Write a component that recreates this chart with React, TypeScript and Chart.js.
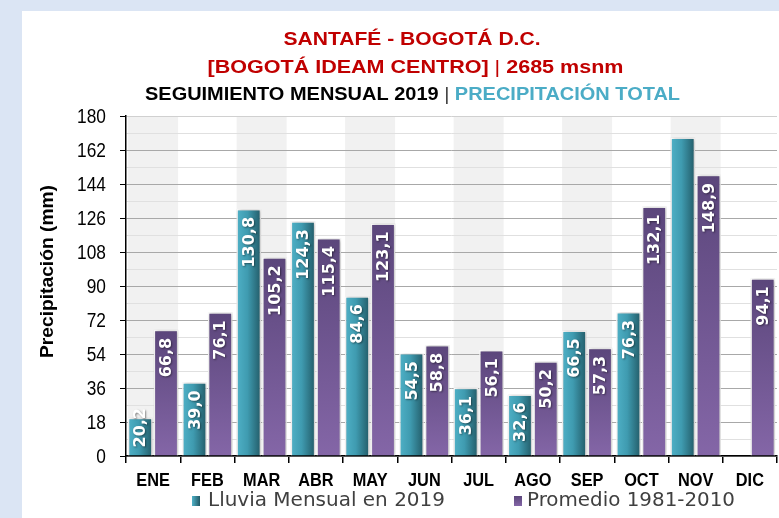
import React, { useEffect, useRef } from 'react';
import { Chart, registerables } from 'chart.js';

Chart.register(...registerables);

const months = ['ENE', 'FEB', 'MAR', 'ABR', 'MAY', 'JUN', 'JUL', 'AGO', 'SEP', 'OCT', 'NOV', 'DIC'];
const lluvia2019: (number | null)[] = [20.2, 39.0, 130.8, 124.3, 84.6, 54.5, 36.1, 32.6, 66.5, 76.3, 168.6, null];
const promedio: (number | null)[] = [66.8, 76.1, 105.2, 115.4, 123.1, 58.8, 56.1, 50.2, 57.3, 132.1, 148.9, 94.1];
const seriesNames = ['Lluvia Mensual en 2019', 'Promedio 1981-2010'];
const yMax = 180;
const yMajorStep = 18;
const yMinorStep = 9;
const titleLine1 = 'SANTAFÉ - BOGOTÁ D.C.';
const titleLine2a = '[BOGOTÁ IDEAM CENTRO]';
const titleLine2b = ' | ';
const titleLine2c = '2685 msnm';
const titleLine3a = 'SEGUIMIENTO MENSUAL 2019';
const titleLine3b = ' | ';
const titleLine3c = 'PRECIPITACIÓN TOTAL';
const yTitle = 'Precipitación (mm)';
// labels the reference does not show (series index, month index)
const hiddenLabels: [number, number][] = [[0, 10]];

const SANS = "'Liberation Sans', Arial, sans-serif";
const LEG = "'DejaVu Sans', sans-serif";
const CAP = 0.716;
const CAT_PCT = 0.95;
const BAR_PCT = 0.96;

type Piece = { text: string; weight: string; color: string };

function drawPieces(
  ctx: CanvasRenderingContext2D,
  pieces: Piece[],
  family: string,
  capH: number,
  x0: number,
  width: number,
  baseline: number
) {
  const size = capH / CAP;
  let total = 0;
  pieces.forEach((p) => {
    ctx.font = `${p.weight} ${size}px ${family}`;
    total += ctx.measureText(p.text).width;
  });
  const sx = width / total;
  ctx.save();
  ctx.translate(x0, baseline);
  ctx.scale(sx, 1);
  ctx.textAlign = 'left';
  ctx.textBaseline = 'alphabetic';
  let x = 0;
  pieces.forEach((p) => {
    ctx.font = `${p.weight} ${size}px ${family}`;
    ctx.fillStyle = p.color;
    ctx.fillText(p.text, x, 0);
    x += ctx.measureText(p.text).width;
  });
  ctx.restore();
}

function fmt(v: number) {
  return v.toFixed(1).replace('.', ',');
}

const decor = {
  id: 'decor',
  beforeDraw(chart: any) {
    const { ctx, chartArea: a, scales } = chart;
    const x = scales.x;
    ctx.save();
    ctx.fillStyle = '#dbe5f4';
    ctx.fillRect(0, 0, chart.width, chart.height);
    ctx.fillStyle = '#ffffff';
    ctx.fillRect(22, 11, chart.width - 22, chart.height - 11);
    ctx.fillStyle = '#f1f1f1';
    for (let i = 0; i < months.length; i += 2) {
      const cx = x.getPixelForValue(i);
      ctx.fillRect(cx - 25, a.top, 50, a.bottom - a.top);
    }
    ctx.restore();
  },
  beforeDatasetsDraw(chart: any) {
    const ctx = chart.ctx;
    ctx.save();
    ctx.shadowColor = 'rgba(0,0,0,0.28)';
    ctx.shadowBlur = 4;
    ctx.shadowOffsetX = 1;
    ctx.shadowOffsetY = 0;
  },
  afterDatasetsDraw(chart: any) {
    const ctx = chart.ctx;
    ctx.restore();
    ctx.save();
    ctx.font = "bold 16px 'DejaVu Sans', sans-serif";
    ctx.fillStyle = '#ffffff';
    ctx.shadowColor = 'rgba(0,0,0,0.45)';
    ctx.shadowBlur = 2;
    ctx.shadowOffsetX = 1;
    ctx.shadowOffsetY = 1;
    chart.data.datasets.forEach((ds: any, di: number) => {
      const meta = chart.getDatasetMeta(di);
      meta.data.forEach((el: any, i: number) => {
        const v = ds.data[i];
        if (v === null || v === undefined) return;
        if (hiddenLabels.some(([a, b]) => a === di && b === i)) return;
        const txt = fmt(v);
        const tw = ctx.measureText(txt).width;
        const h = el.base - el.y;
        ctx.save();
        ctx.textBaseline = 'middle';
        if (h >= tw + 14) {
          ctx.translate(el.x, el.y + 8);
          ctx.rotate(-Math.PI / 2);
          ctx.textAlign = 'right';
        } else {
          ctx.translate(el.x, el.base - 8);
          ctx.rotate(-Math.PI / 2);
          ctx.textAlign = 'left';
        }
        ctx.fillText(txt, 0, 1);
        ctx.restore();
      });
    });
    ctx.restore();
  },
  afterDraw(chart: any) {
    const { ctx, scales } = chart;
    ctx.save();
    // titles
    drawPieces(ctx, [{ text: titleLine1, weight: 'bold', color: '#c00000' }], SANS, 13.5, 283.5, 257, 45);
    drawPieces(
      ctx,
      [
        { text: titleLine2a, weight: 'bold', color: '#c00000' },
        { text: titleLine2b, weight: 'normal', color: '#c00000' },
        { text: titleLine2c, weight: 'bold', color: '#c00000' },
      ],
      SANS,
      13.7,
      207.5,
      416,
      73
    );
    drawPieces(
      ctx,
      [
        { text: titleLine3a, weight: 'bold', color: '#000000' },
        { text: titleLine3b, weight: 'normal', color: '#404040' },
        { text: titleLine3c, weight: 'bold', color: '#4bacc6' },
      ],
      SANS,
      13.2,
      145,
      535,
      100
    );

    // y tick labels
    const ys = scales.y;
    ys.ticks.forEach((t: any) => {
      if (t.value % yMajorStep !== 0) return;
      const label = String(t.value);
      const py = ys.getPixelForValue(t.value);
      const size = 14.6 / CAP;
      ctx.font = `normal ${size}px ${SANS}`;
      const w = ctx.measureText(label).width;
      const sx = 0.85;
      ctx.save();
      ctx.translate(106 - w * sx, py + 7.3);
      ctx.scale(sx, 1);
      ctx.fillStyle = '#000000';
      ctx.textAlign = 'left';
      ctx.textBaseline = 'alphabetic';
      ctx.fillText(label, 0, 0);
      ctx.restore();
    });

    // x tick labels
    const xs = scales.x;
    months.forEach((m, i) => {
      const px = xs.getPixelForValue(i);
      const size = 13.6 / CAP;
      ctx.font = `bold ${size}px ${SANS}`;
      const w = ctx.measureText(m).width;
      const sx = 0.86;
      ctx.save();
      ctx.translate(px - (w * sx) / 2, 486);
      ctx.scale(sx, 1);
      ctx.fillStyle = '#000000';
      ctx.textAlign = 'left';
      ctx.textBaseline = 'alphabetic';
      ctx.fillText(m, 0, 0);
      ctx.restore();
    });

    // y axis title
    ctx.save();
    ctx.translate(53.3, 358);
    ctx.rotate(-Math.PI / 2);
    drawPieces(ctx, [{ text: yTitle, weight: 'bold', color: '#000000' }], SANS, 13.8, 0, 173, 0);
    ctx.restore();

    // legend
    const legendItems = [
      { x: 192, tx: 208, w: 237, kind: 0 },
      { x: 514, tx: 527, w: 208, kind: 1 },
    ];
    legendItems.forEach((it) => {
      let g: CanvasGradient;
      if (it.kind === 0) {
        g = ctx.createLinearGradient(it.x, 0, it.x + 8, 0);
        g.addColorStop(0, '#50b2c8');
        g.addColorStop(1, '#215864');
      } else {
        g = ctx.createLinearGradient(0, 496, 0, 506);
        g.addColorStop(0, '#5b467b');
        g.addColorStop(1, '#8466a7');
      }
      ctx.fillStyle = g;
      ctx.fillRect(it.x, 496, 8, 10);
      drawPieces(ctx, [{ text: seriesNames[it.kind], weight: 'normal', color: '#404040' }], LEG, 14, it.tx, it.w, 506);
    });
    ctx.restore();
  },
};

export default function App() {
  const ref = useRef<HTMLCanvasElement | null>(null);
  useEffect(() => {
    if (!ref.current) return;
    const chart = new Chart(ref.current, {
      type: 'bar',
      data: {
        labels: months,
        datasets: [
          {
            label: seriesNames[0],
            data: lluvia2019,
            backgroundColor: (c: any) => {
              const chart = c.chart;
              const area = chart.chartArea;
              if (!area || c.type !== 'data') return '#3a8ea0';
              const xs = chart.scales.x;
              const cx = xs.getPixelForValue(c.dataIndex);
              const catW = (area.right - area.left) / months.length;
              const x0 = cx - (catW * CAT_PCT) / 2;
              const g = chart.ctx.createLinearGradient(x0, 0, cx, 0);
              g.addColorStop(0, '#50b2c8');
              g.addColorStop(0.45, '#3f9bb0');
              g.addColorStop(1, '#215864');
              return g;
            },
            borderColor: '#ffffff',
            borderWidth: 1.5,
            categoryPercentage: CAT_PCT,
            barPercentage: BAR_PCT,
          },
          {
            label: seriesNames[1],
            data: promedio,
            backgroundColor: (c: any) => {
              const chart = c.chart;
              const area = chart.chartArea;
              if (!area || c.type !== 'data') return '#6f5594';
              const ys = chart.scales.y;
              const v = c.raw;
              if (v === null || v === undefined) return '#6f5594';
              const y0 = ys.getPixelForValue(v);
              const y1 = ys.getPixelForValue(0);
              const g = chart.ctx.createLinearGradient(0, y0, 0, y1);
              g.addColorStop(0, '#5b467b');
              g.addColorStop(1, '#8466a7');
              return g;
            },
            borderColor: '#ffffff',
            borderWidth: 1.5,
            categoryPercentage: CAT_PCT,
            barPercentage: BAR_PCT,
          },
        ],
      },
      options: {
        responsive: false,
        animation: false,
        devicePixelRatio: 1,
        layout: { padding: { top: 116, right: 2, left: 0, bottom: 0 } },
        plugins: {
          legend: { display: false },
          title: { display: false },
          tooltip: { enabled: false },
        },
        scales: {
          x: {
            offset: true,
            grid: {
              display: true,
              drawOnChartArea: false,
              offset: true,
              tickLength: 7,
              color: '#000000',
              tickColor: '#000000',
              lineWidth: 1.5,
            },
            border: { display: true, color: '#000000', width: 1.5 },
            ticks: { display: false, autoSkip: false },
            afterFit: (scale: any) => {
              scale.height = 62;
            },
          },
          y: {
            min: 0,
            max: yMax,
            grid: {
              color: (c: any) =>
                c.tick && c.tick.value % yMajorStep === 0 ? (c.tick.value === yMax ? '#d0d0d0' : '#a8a8a8') : '#e0e0e0',
              tickColor: (c: any) => (c.tick && c.tick.value % yMajorStep === 0 ? '#000000' : 'rgba(0,0,0,0)'),
              tickLength: 6,
              lineWidth: 1,
            },
            border: { display: true, color: '#000000', width: 1.5 },
            ticks: { display: false, stepSize: yMinorStep, autoSkip: false },
            afterFit: (scale: any) => {
              scale.width = 126;
            },
          },
        },
      },
      plugins: [decor],
    } as any);
    return () => chart.destroy();
  }, []);
  return (
    <div style={{ position: 'fixed', left: 0, top: 0, width: 779, height: 518 }}>
      <canvas ref={ref} width={779} height={518} style={{ width: 779, height: 518, display: 'block' }} />
    </div>
  );
}
